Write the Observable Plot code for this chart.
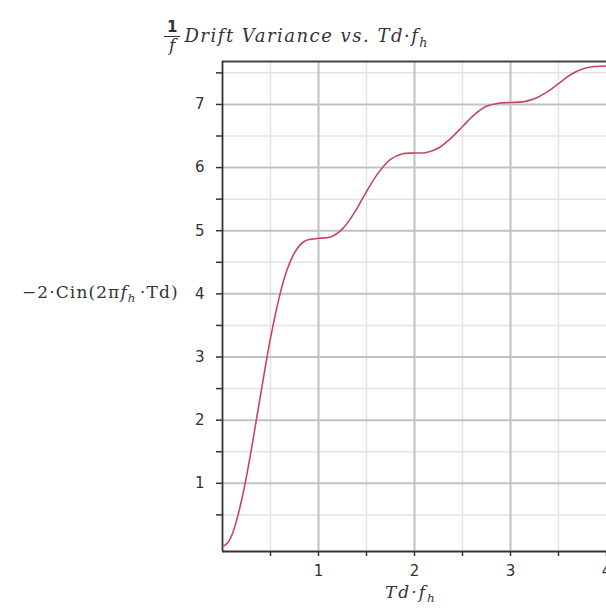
<!DOCTYPE html>
<html>
<head>
<meta charset="utf-8">
<script src="https://cdn.jsdelivr.net/npm/d3@7"></script>
<script src="https://cdn.jsdelivr.net/npm/@observablehq/plot@0.6"></script>
<style>
  html, body { margin: 0; padding: 0; background: #fff; overflow: hidden; }
  #wrap { position: relative; width: 606px; height: 611px; overflow: hidden; background: #fff; }
  #wrap svg { position: absolute; left: 0; top: 0; max-width: none !important; }
  .lbl { position: absolute; white-space: nowrap; color: #333; }
  .title { font-family: "DejaVu Serif", "Liberation Serif", serif; font-style: italic; font-size: 18px; letter-spacing: 1.5px; }
  .frac { display: inline-block; vertical-align: middle; text-align: center; font-style: normal; margin-right: 4px; letter-spacing: 0; }
  .frac span { display: block; line-height: 1.05; }
  .frac .num { border-bottom: 1.3px solid #333; padding: 0 3px; font-family: "DejaVu Sans", sans-serif; font-size: 15px; font-weight: bold; }
  .frac .den { font-style: italic; font-size: 17px; }
  .ylab { font-family: "DejaVu Serif", "Liberation Serif", serif; font-size: 17px; letter-spacing: 1.1px; }
  .xlab { font-family: "DejaVu Serif", "Liberation Serif", serif; font-style: italic; font-size: 17px; letter-spacing: 2px; }
  sub { font-size: 0.7em; letter-spacing: 0; }
</style>
</head>
<body>
<div id="wrap"></div>
<script>
// Td·f_h values (x) and -2·Cin(2π f_h·Td) values (y)
const xValues = [0, 0.05, 0.1, 0.15, 0.2, 0.25, 0.3, 0.35, 0.4, 0.45, 0.5, 0.55, 0.6, 0.65, 0.7, 0.75, 0.8, 0.85, 0.9, 0.95, 1.0,
  1.125, 1.25, 1.375, 1.5, 1.625, 1.75, 1.875, 2.0, 2.125, 2.25, 2.375, 2.5, 2.625, 2.75, 2.875, 3.0,
  3.125, 3.25, 3.375, 3.5, 3.625, 3.75, 3.875, 4.0];
const yValues = [0, 0.05, 0.19, 0.43, 0.74, 1.11, 1.53, 1.98, 2.43, 2.88, 3.30, 3.67, 4.00, 4.28, 4.49, 4.65, 4.76, 4.83, 4.86, 4.87, 4.88,
  4.90, 5.03, 5.29, 5.62, 5.92, 6.13, 6.22, 6.23, 6.24, 6.31, 6.46, 6.65, 6.84, 6.97, 7.02, 7.03,
  7.04, 7.09, 7.19, 7.33, 7.47, 7.56, 7.60, 7.61];

const xMajorTicks = [1, 2, 3, 4];
const xMinorTicks = [0.5, 1.5, 2.5, 3.5];
const yMajorTicks = [1, 2, 3, 4, 5, 6, 7];
const yMinorTicks = [0.5, 1.5, 2.5, 3.5, 4.5, 5.5, 6.5, 7.5];
const xDomain = [0, 4];
const yDomain = [-0.08, 7.68];

const data = xValues.map((x, i) => ({x, y: yValues[i]}));

const chart = Plot.plot({
  width: 640,
  height: 611,
  marginLeft: 222,
  marginRight: 34,
  marginTop: 61,
  marginBottom: 60,
  x: {domain: xDomain},
  y: {domain: yDomain},
  style: {fontFamily: "DejaVu Sans, sans-serif", fontSize: "15px", color: "#333", background: "#fff"},
  marks: [
    Plot.gridX(xMinorTicks, {stroke: "#e4e4e4", strokeOpacity: 1, strokeWidth: 1.5}),
    Plot.gridY(yMinorTicks, {stroke: "#e4e4e4", strokeOpacity: 1, strokeWidth: 1.5}),
    Plot.gridX([1, 2, 3], {stroke: "#c2c2c2", strokeOpacity: 1, strokeWidth: 2}),
    Plot.gridY(yMajorTicks, {stroke: "#c2c2c2", strokeOpacity: 1, strokeWidth: 2}),
    Plot.axisX(xMinorTicks, {tickSize: 5, text: null, label: null, stroke: "#333", strokeWidth: 1.5}),
    Plot.axisX(xMajorTicks, {tickSize: 5, tickPadding: 9, label: null, tickFormat: d => String(d), stroke: "#333", strokeWidth: 1.5}),
    Plot.axisY(yMinorTicks, {tickSize: 6, text: null, label: null, stroke: "#333", strokeWidth: 1.5}),
    Plot.axisY(yMajorTicks, {tickSize: 6, tickPadding: 12, label: null, tickFormat: d => String(d), stroke: "#333", strokeWidth: 1.5}),
    Plot.ruleY([yDomain[0]], {stroke: "#333", strokeWidth: 1.8}),
    Plot.ruleY([yDomain[1]], {stroke: "#444", strokeWidth: 2.2}),
    Plot.ruleX([xDomain[0]], {stroke: "#333", strokeWidth: 1.8}),
    Plot.line(data, {x: "x", y: "y", stroke: "#c8465a", strokeWidth: 1.6, curve: "catmull-rom"})
  ]
});
chart.style.maxWidth = "none";

const wrap = document.getElementById("wrap");
wrap.appendChild(chart);

const title = document.createElement("div");
title.className = "lbl title";
title.style.left = "164px";
title.style.top = "20px";
title.innerHTML = '<span class="frac"><span class="num">1</span><span class="den">f</span></span>Drift Variance vs. <i>Td</i>·<i>f</i><sub><i>h</i></sub>';
wrap.appendChild(title);

const ylab = document.createElement("div");
ylab.className = "lbl ylab";
ylab.style.left = "22px";
ylab.style.top = "282px";
ylab.innerHTML = '\u22122\u00b7Cin(2\u03c0<i>f</i><sub><i>h</i></sub>\u2009\u00b7Td)';
wrap.appendChild(ylab);

const xlab = document.createElement("div");
xlab.className = "lbl xlab";
xlab.style.left = "385px";
xlab.style.top = "582px";
xlab.innerHTML = 'Td\u00b7<i>f</i><sub><i>h</i></sub>';
wrap.appendChild(xlab);
</script>
</body>
</html>
